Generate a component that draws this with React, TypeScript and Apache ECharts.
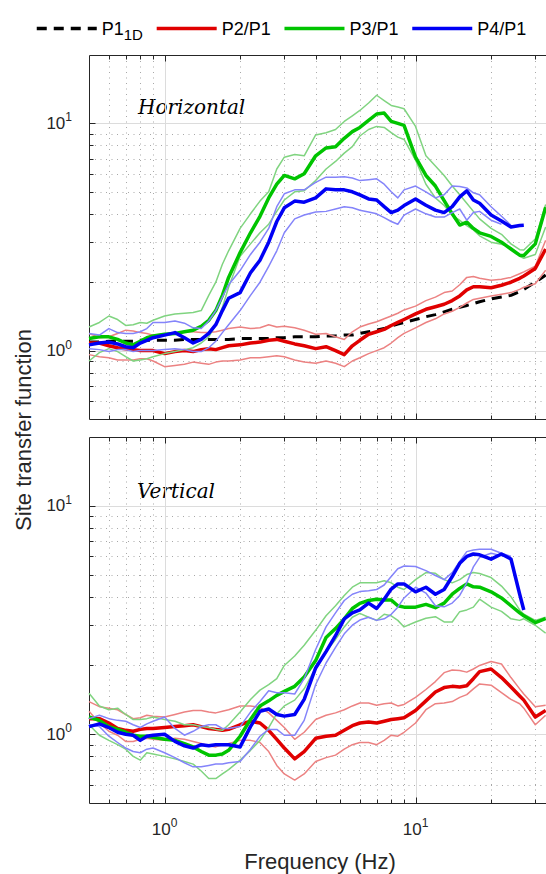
import React, { useEffect, useRef } from 'react';
import * as echarts from 'echarts';

// Frequency samples (Hz)
const FREQ = [
  0.5, 0.55, 0.6, 0.65, 0.7, 0.75, 0.8, 0.85, 0.9,
  1.0, 1.1, 1.2, 1.3, 1.4, 1.5, 1.6, 1.7, 1.8,
  2.0, 2.2, 2.4, 2.6, 2.8,
  3.0, 3.3, 3.6,
  4.0, 4.4, 4.8, 5.2, 5.6, 6.0, 6.5, 7.0, 7.5, 8.0, 8.5, 9.0,
  10, 11, 12, 13, 14, 15, 16, 17, 18,
  20, 22, 24, 26, 27, 30, 33,
];

// ---- Horizontal panel ----
const H_P1_1D = [
  1.09, 1.09, 1.10, 1.10, 1.10, 1.10, 1.11, 1.11, 1.11,
  1.11, 1.11, 1.12, 1.12, 1.12, 1.12, 1.12, 1.12, 1.12,
  1.13, 1.13, 1.13, 1.13, 1.14,
  1.14, 1.15, 1.15,
  1.15, 1.16, 1.16, 1.17, 1.17, 1.19, 1.21, 1.23, 1.25, 1.28, 1.31, 1.33,
  1.37, 1.41, 1.44, 1.48, 1.52, 1.55, 1.58, 1.61, 1.64,
  1.69, 1.72, 1.75, 1.82, 1.86, 2.00, 2.15,
];
const H_P2 = [
  1.08, 1.08, 1.05, 1.03, 1.02, 1.01, 1.00, 1.00, 1.00,
  0.97, 0.99, 1.00, 0.99, 1.01, 1.02, 1.01, 1.03, 1.05,
  1.06, 1.08, 1.09, 1.11, 1.12,
  1.10, 1.07, 1.05,
  1.02, 1.04, 1.00, 0.96, 1.05, 1.11, 1.18, 1.21, 1.24, 1.29, 1.33, 1.37,
  1.45, 1.52, 1.56, 1.60, 1.66, 1.74, 1.85, 1.91, 1.91,
  1.89, 1.94, 2.00, 2.08, 2.13, 2.30, 2.80,
];
const H_P2_UP = [
  1.19, 1.14, 1.15, 1.19, 1.23, 1.22, 1.20, 1.19, 1.17,
  1.18, 1.19, 1.21, 1.21, 1.20, 1.20, 1.21, 1.23, 1.25,
  1.27, 1.25, 1.26, 1.30, 1.27,
  1.28, 1.26, 1.23,
  1.18, 1.19, 1.15, 1.12, 1.21, 1.27, 1.31, 1.34, 1.38, 1.42, 1.46, 1.51,
  1.57, 1.66, 1.72, 1.80, 1.83, 1.95, 2.10, 2.12, 2.08,
  2.04, 2.06, 2.10, 2.18, 2.22, 2.35, 3.06,
];
const H_P2_LO = [
  0.96, 0.94, 0.93, 0.91, 0.91, 0.91, 0.92, 0.92, 0.90,
  0.85, 0.86, 0.87, 0.89, 0.88, 0.87, 0.89, 0.90, 0.90,
  0.91, 0.93, 0.93, 0.94, 0.95,
  0.94, 0.91, 0.89,
  0.88, 0.90, 0.88, 0.85, 0.90, 0.93, 0.97, 1.00, 1.03, 1.08, 1.14, 1.19,
  1.26, 1.33, 1.38, 1.45, 1.49, 1.55, 1.62, 1.68, 1.70,
  1.74, 1.77, 1.80, 1.86, 1.90, 1.97, 2.26,
];
const H_P3 = [
  1.13, 1.15, 1.15, 1.12, 1.08, 1.06, 1.10, 1.14, 1.16,
  1.18, 1.19, 1.21, 1.23, 1.28, 1.36, 1.50, 1.75, 2.10,
  2.70, 3.30, 3.90, 4.70, 5.40,
  5.90, 5.70, 6.00,
  7.20, 7.80, 7.90, 8.60, 9.20, 9.60, 10.3, 11.0, 11.1, 10.2, 10.0, 9.80,
  7.10, 5.90, 5.30, 4.57, 4.00, 3.57, 3.68, 3.45, 3.30,
  3.18, 3.00, 2.80, 2.63, 2.62, 2.95, 4.28,
];
const H_P3_UP = [
  1.27, 1.33, 1.42, 1.37, 1.29, 1.30, 1.33, 1.32, 1.36,
  1.42, 1.45, 1.46, 1.47, 1.50, 1.75, 2.00, 2.40, 2.75,
  3.45, 4.00, 4.55, 5.00, 6.30,
  7.10, 7.30, 7.20,
  8.90, 9.10, 9.40, 10.2, 10.8, 11.4, 12.3, 13.3, 12.6, 12.0, 11.8, 11.6,
  9.70, 7.20, 6.50, 5.90, 5.30, 4.85, 4.45, 4.10, 3.80,
  3.45, 3.25, 2.95, 2.78, 2.77, 3.10, 4.40,
];
const H_P3_LO = [
  0.90, 0.98, 1.02, 0.99, 0.94, 0.90, 0.91, 0.92, 0.94,
  0.97, 0.99, 1.01, 1.03, 1.08, 1.15, 1.30, 1.55, 1.90,
  2.60, 2.95, 3.30, 3.60, 4.10,
  4.60, 5.00, 5.05,
  5.60, 6.30, 6.80, 7.40, 7.90, 8.80, 9.40, 9.70, 9.60, 9.10, 8.70, 8.50,
  6.90, 5.40, 4.70, 4.35, 3.95, 3.74, 3.55, 3.40, 3.20,
  3.00, 2.94, 2.84, 2.60, 2.55, 2.65, 3.50,
];
const H_P4 = [
  1.06, 1.08, 1.09, 1.07, 1.04, 1.03, 1.08, 1.11, 1.14,
  1.17, 1.20, 1.14, 1.08, 1.12, 1.19, 1.30, 1.50, 1.70,
  1.80, 2.20, 2.50, 3.00, 3.70,
  4.25, 4.55, 4.50,
  4.70, 5.15, 5.10, 5.10, 5.00, 4.85, 4.65, 4.60, 4.30, 4.05, 4.15, 4.35,
  4.65, 4.36, 4.15, 4.05, 4.30, 4.75, 5.05, 4.60, 4.45,
  3.95, 3.72, 3.50, 3.55, 3.56,
];
const H_P4_UP = [
  1.19, 1.17, 1.25, 1.20, 1.19, 1.19, 1.21, 1.25, 1.33,
  1.33, 1.35, 1.32, 1.26, 1.25, 1.35, 1.50, 1.72, 1.95,
  2.25, 2.65, 3.00, 3.45, 4.30,
  4.90, 5.10, 5.10,
  5.50, 5.80, 5.80, 5.82, 5.75, 5.60, 5.65, 5.70, 5.40, 5.00, 4.70, 5.10,
  5.30, 5.00, 4.70, 4.85, 5.30, 5.28, 5.20, 4.95, 4.85,
  4.30, 3.90, 3.56,
];
const H_P4_LO = [
  1.02, 1.01, 0.99, 1.01, 1.01, 0.99, 1.00, 1.00, 1.00,
  1.01, 1.02, 1.01, 0.99, 0.99, 1.03, 1.10, 1.20, 1.30,
  1.50, 1.75, 2.00, 2.35, 2.75,
  3.30, 3.80, 3.95,
  4.07, 4.10, 4.20, 4.30, 4.25, 4.15, 4.07, 4.00, 3.85, 3.70, 3.60, 3.95,
  4.20, 4.00, 3.87, 3.87, 4.05, 4.20, 3.75, 4.05, 4.10,
  3.75, 3.60,
];

// ---- Vertical panel ----
const V_P2 = [
  1.17, 1.17, 1.12, 1.06, 1.04, 1.03, 1.05, 1.06, 1.06,
  1.07, 1.08, 1.09, 1.10, 1.08, 1.06, 1.05, 1.04, 1.05,
  1.10, 1.14, 1.12, 1.04, 0.95,
  0.87, 0.78, 0.84,
  0.96, 0.98, 0.99, 1.04, 1.09, 1.12, 1.13, 1.12, 1.14, 1.16, 1.17, 1.18,
  1.27, 1.40, 1.53, 1.60, 1.62, 1.61, 1.63, 1.75, 1.88,
  1.93, 1.77, 1.61, 1.47, 1.41, 1.19, 1.27,
];
const V_P2_UP = [
  1.39, 1.32, 1.30, 1.28, 1.22, 1.17, 1.18, 1.21, 1.20,
  1.19, 1.22, 1.25, 1.27, 1.27, 1.25, 1.24, 1.26, 1.28,
  1.33, 1.33, 1.31, 1.24, 1.15,
  1.07, 0.95, 1.02,
  1.16, 1.21, 1.24, 1.28, 1.33, 1.37, 1.37, 1.34, 1.36, 1.37, 1.33, 1.35,
  1.45, 1.57, 1.70, 1.86, 1.91, 1.90, 1.87, 1.93, 2.00,
  2.08, 2.03, 1.77, 1.58, 1.50, 1.32, 1.34,
];
const V_P2_LO = [
  1.26, 1.12, 1.03, 0.99, 0.93, 0.93, 0.95, 0.96, 0.95,
  0.94, 0.96, 0.95, 0.93, 0.91, 0.89, 0.88, 0.90, 0.91,
  0.94, 0.94, 0.92, 0.84, 0.73,
  0.67, 0.63, 0.67,
  0.76, 0.79, 0.81, 0.86, 0.90, 0.92, 0.92, 0.90, 0.94, 0.99, 0.98, 1.02,
  1.12, 1.28, 1.36, 1.37, 1.39, 1.45, 1.49, 1.58, 1.66,
  1.64, 1.52, 1.42, 1.36, 1.30, 1.10, 1.21,
];
const V_P3 = [
  1.19, 1.15, 1.08, 1.05, 1.02, 0.99, 0.98, 0.98, 0.97,
  0.95, 0.94, 0.91, 0.88, 0.84, 0.81, 0.81, 0.82, 0.85,
  0.98, 1.16, 1.33, 1.40, 1.48,
  1.54, 1.62, 1.78,
  2.10, 2.65, 2.90, 3.20, 3.55, 3.74, 3.85, 3.90, 3.87, 3.87, 3.65, 3.60,
  3.60, 3.70, 3.58, 3.75, 4.10, 4.35, 4.55, 4.42, 4.40,
  4.20, 3.95, 3.65, 3.40, 3.30, 3.08, 3.21,
];
const V_P3_UP = [
  1.51, 1.33, 1.28, 1.30, 1.22, 1.16, 1.16, 1.17, 1.19,
  1.16, 1.14, 1.10, 1.10, 1.08, 1.07, 1.05, 1.04, 1.10,
  1.25, 1.42, 1.56, 1.65, 1.75,
  2.00, 2.20, 2.45,
  2.85, 3.30, 3.65, 4.05, 4.40, 4.60, 4.60, 4.60, 4.70, 4.60, 4.40, 4.30,
  4.75, 5.10, 5.06, 4.75, 4.60, 4.75, 5.00, 5.10, 5.05,
  4.85, 4.45, 4.00, 3.50, 3.35, 3.15, 3.25,
];
const V_P3_LO = [
  1.10, 0.99, 0.94, 0.90, 0.86, 0.80, 0.77, 0.83, 0.82,
  0.80, 0.78, 0.76, 0.74, 0.69, 0.64, 0.64, 0.67, 0.70,
  0.77, 0.85, 0.94, 1.07, 1.23,
  1.33, 1.41, 1.58,
  1.95, 2.30, 2.60, 2.95, 3.25, 3.38, 3.25, 3.15, 3.35, 3.30, 3.15, 2.95,
  3.10, 3.22, 3.27, 3.10, 3.10, 3.44, 3.50, 3.60, 3.90,
  3.60, 3.45, 3.20, 3.15, 3.20, 3.00, 2.77,
];
const V_P4 = [
  1.08, 1.11, 1.07, 1.02, 1.00, 0.99, 0.94, 0.98, 0.99,
  1.00, 0.93, 0.89, 0.87, 0.90, 0.89, 0.90, 0.90, 0.90,
  0.88, 1.08, 1.26, 1.29, 1.22,
  1.20, 1.22, 1.42,
  1.95, 2.30, 2.70, 3.20, 3.40, 3.50, 3.75, 3.55, 3.90, 4.32, 4.55, 4.55,
  4.20, 4.40, 4.10, 4.30, 4.90, 5.60, 6.00, 6.15, 6.10,
  5.84, 6.15, 5.85, 4.10, 3.50,
];
const V_P4_UP = [
  1.17, 1.21, 1.17, 1.15, 1.14, 1.10, 1.07, 1.11, 1.14,
  1.19, 1.06, 0.99, 1.03, 1.08, 1.10, 1.10, 1.06, 1.06,
  1.08, 1.25, 1.39, 1.55, 1.52,
  1.52, 1.50, 1.75,
  2.35, 2.95, 3.40, 3.85, 4.10, 4.21, 4.25, 4.30, 4.50, 4.90, 5.30, 5.45,
  5.42, 5.20, 4.95, 4.75, 5.10, 5.70, 6.30, 6.40, 6.45,
  6.45, 6.20, 6.00,
];
const V_P4_LO = [
  1.10, 1.08, 0.98, 0.92, 0.87, 0.84, 0.83, 0.86, 0.87,
  0.83, 0.79, 0.75, 0.72, 0.72, 0.73, 0.74, 0.74, 0.75,
  0.76, 0.86, 0.98, 1.05, 1.05,
  0.99, 0.99, 1.15,
  1.65, 2.05, 2.40, 2.75, 3.00, 3.16, 3.25, 3.15, 3.20, 3.35, 3.60, 3.95,
  4.40, 4.15, 3.65, 3.61, 3.75, 4.05, 4.60, 5.40, 5.95,
  6.20, 6.05, 6.00,
];

// Axis ranges and tick values
const X_MIN = 0.5;
const X_MAX = 33.1;
const Y_MIN = 0.5;
const Y_MAX = 20;
const X_MINOR = [0.6, 0.7, 0.8, 0.9, 2, 3, 4, 5, 6, 7, 8, 9, 20, 30];
const X_MAJOR = [1, 10];
const Y_MINOR = [0.6, 0.7, 0.8, 0.9, 2, 3, 4, 5, 6, 7, 8, 9];
const Y_MAJOR = [1, 10];
const PANEL_TITLES = ['Horizontal', 'Vertical'];

const FONT = '"Liberation Sans", Arial, Helvetica, sans-serif';
const AXIS_COLOR = '#262626';
const RED = '#e00000';
const GREEN = '#00c400';
const BLUE = '#0000f5';
const RED_T = '#ec8282';
const GREEN_T = '#80d480';
const BLUE_T = '#8484fa';

function pairs(vals: number[]) {
  return vals.map((v, i) => [FREQ[i], v]);
}

function decor(gi: number) {
  return {
    type: 'custom',
    xAxisIndex: gi,
    yAxisIndex: gi,
    silent: true,
    z: 1,
    clip: false,
    data: [[1, 1]],
    renderItem: (_params: any, api: any) => {
      const c = (x: number, y: number) => api.coord([x, y]);
      const cr = (v: number) => Math.round(v) + 0.5;
      const L = cr(c(X_MIN, Y_MIN)[0]);
      const R = c(X_MAX, Y_MIN)[0] + 2;
      const B = cr(c(X_MIN, Y_MIN)[1]);
      const T = cr(c(X_MIN, Y_MAX)[1]);
      const ch: any[] = [];
      const ln = (x1: number, y1: number, x2: number, y2: number, style: any) =>
        ch.push({ type: 'line', shape: { x1, y1, x2, y2 }, style });
      const minorGrid = { stroke: '#a8a8a8', lineWidth: 1, lineDash: [1, 4.5] };
      const majorGrid = { stroke: '#dcdcdc', lineWidth: 1 };
      const tick = { stroke: AXIS_COLOR, lineWidth: 1 };
      X_MINOR.forEach((v) => {
        const x = cr(c(v, Y_MIN)[0]);
        ln(x, T, x, B, minorGrid);
      });
      Y_MINOR.forEach((v) => {
        const y = cr(c(X_MIN, v)[1]);
        ln(L, y, R, y, minorGrid);
      });
      X_MAJOR.forEach((v) => {
        const x = cr(c(v, Y_MIN)[0]);
        ln(x, T, x, B, majorGrid);
      });
      Y_MAJOR.forEach((v) => {
        const y = cr(c(X_MIN, v)[1]);
        ln(L, y, R, y, majorGrid);
      });
      X_MINOR.forEach((v) => {
        const x = cr(c(v, Y_MIN)[0]);
        ln(x, T, x, T + 4, tick);
        ln(x, B, x, B - 4, tick);
      });
      X_MAJOR.forEach((v) => {
        const x = cr(c(v, Y_MIN)[0]);
        ln(x, T, x, T + 6, tick);
        ln(x, B, x, B - 6, tick);
      });
      Y_MINOR.forEach((v) => {
        const y = cr(c(X_MIN, v)[1]);
        ln(L, y, L + 4, y, tick);
      });
      Y_MAJOR.forEach((v) => {
        const y = cr(c(X_MIN, v)[1]);
        ln(L, y, L + 6, y, tick);
      });
      const box = { stroke: AXIS_COLOR, lineWidth: 1 };
      ln(L, T, R, T, box);
      ln(L, B, R, B, box);
      ln(L, T, L, B, box);
      return { type: 'group', children: ch };
    },
  };
}

function line(name: string, vals: number[], gi: number, color: string, width: number, dash?: any) {
  return {
    type: 'line',
    name,
    xAxisIndex: gi,
    yAxisIndex: gi,
    data: pairs(vals),
    symbol: 'none',
    showSymbol: false,
    smooth: false,
    silent: true,
    z: 2,
    lineStyle: { color, width, type: dash || 'solid', cap: 'butt', join: 'round' },
    itemStyle: { color },
    emphasis: { disabled: true },
  };
}

const tickRich = {
  b: { fontSize: 17, lineHeight: 20, fontFamily: FONT, color: AXIS_COLOR },
  s: { fontSize: 12, lineHeight: 12, padding: [0, 0, 12, 0], fontFamily: FONT, color: AXIS_COLOR },
};
const tickFmt = (v: number) => {
  if (Math.abs(v - 1) < 1e-6) return '{b|10}{s|0}';
  if (Math.abs(v - 10) < 1e-6) return '{b|10}{s|1}';
  return '';
};

function xAxis(gi: number, showLabels: boolean) {
  return {
    type: 'log',
    logBase: 10,
    gridIndex: gi,
    min: X_MIN,
    max: X_MAX,
    axisLine: { show: false },
    axisTick: { show: false },
    splitLine: { show: false },
    minorTick: { show: false },
    axisLabel: {
      show: showLabels,
      formatter: tickFmt,
      rich: tickRich,
      margin: 16,
      showMinLabel: false,
      showMaxLabel: false,
    },
  };
}
function yAxis(gi: number) {
  return {
    type: 'log',
    logBase: 10,
    gridIndex: gi,
    min: Y_MIN,
    max: Y_MAX,
    axisLine: { show: false },
    axisTick: { show: false },
    splitLine: { show: false },
    axisLabel: {
      show: true,
      formatter: tickFmt,
      rich: tickRich,
      margin: 17,
      showMinLabel: false,
      showMaxLabel: false,
    },
  };
}

export default function App() {
  const ref = useRef<HTMLDivElement>(null);
  useEffect(() => {
    if (!ref.current) return;
    const chart = echarts.init(ref.current, undefined, { renderer: 'svg' });
    const option: any = {
      animation: false,
      backgroundColor: '#ffffff',
      grid: [
        { left: 89, top: 55, width: 457, height: 364 },
        { left: 89, top: 437, width: 457, height: 366 },
      ],
      xAxis: [xAxis(0, false), xAxis(1, true)],
      yAxis: [yAxis(0), yAxis(1)],
      legend: {
        data: ['P1', 'P2/P1', 'P3/P1', 'P4/P1'],
        left: 30,
        top: 10,
        itemWidth: 60,
        itemHeight: 14,
        itemGap: 12,
        selectedMode: false,
        itemStyle: { opacity: 0, borderWidth: 0 },
        lineStyle: { width: 3.5 },
        formatter: (n: string) => (n === 'P1' ? '{a|P1}{d|1D}' : n),
        textStyle: {
          fontFamily: FONT,
          fontSize: 18,
          color: '#000',
          rich: {
            a: { fontFamily: FONT, fontSize: 18, lineHeight: 20, color: '#000' },
            d: { fontFamily: FONT, fontSize: 15, lineHeight: 15, padding: [12, 0, 0, 0], color: '#000' },
          },
        },
      },
      graphic: [
        {
          type: 'text',
          x: 138,
          y: 107,
          silent: true,
          style: { text: PANEL_TITLES[0], font: 'italic 20px "DejaVu Serif"', fill: '#000', align: 'left', verticalAlign: 'middle' },
        },
        {
          type: 'text',
          x: 137,
          y: 491,
          silent: true,
          style: { text: PANEL_TITLES[1], font: 'italic 20px "DejaVu Serif"', fill: '#000', align: 'left', verticalAlign: 'middle' },
        },
        {
          type: 'text',
          x: 23,
          y: 430,
          rotation: Math.PI / 2,
          silent: true,
          style: { text: 'Site transfer function', font: '22px "Liberation Sans"', fill: AXIS_COLOR, align: 'center', verticalAlign: 'middle' },
        },
        {
          type: 'text',
          x: 320,
          y: 861,
          silent: true,
          style: { text: 'Frequency (Hz)', font: '22px "Liberation Sans"', fill: AXIS_COLOR, align: 'center', verticalAlign: 'middle' },
        },
      ],
      series: [
        decor(0),
        decor(1),
        line('P1', H_P1_1D, 0, '#000', 3, [10, 7]),
        line('P2/P1 hi H', H_P2_UP, 0, RED_T, 1.5),
        line('P2/P1 lo H', H_P2_LO, 0, RED_T, 1.5),
        line('P2/P1', H_P2, 0, RED, 3.5),
        line('P3/P1 hi H', H_P3_UP, 0, GREEN_T, 1.5),
        line('P3/P1 lo H', H_P3_LO, 0, GREEN_T, 1.5),
        line('P3/P1', H_P3, 0, GREEN, 3.5),
        line('P4/P1 hi H', H_P4_UP, 0, BLUE_T, 1.5),
        line('P4/P1 lo H', H_P4_LO, 0, BLUE_T, 1.5),
        line('P4/P1', H_P4, 0, BLUE, 3.5),
        line('P2/P1 hi V', V_P2_UP, 1, RED_T, 1.5),
        line('P2/P1 lo V', V_P2_LO, 1, RED_T, 1.5),
        line('P2/P1', V_P2, 1, RED, 3.5),
        line('P3/P1 hi V', V_P3_UP, 1, GREEN_T, 1.5),
        line('P3/P1 lo V', V_P3_LO, 1, GREEN_T, 1.5),
        line('P3/P1', V_P3, 1, GREEN, 3.5),
        line('P4/P1 hi V', V_P4_UP, 1, BLUE_T, 1.5),
        line('P4/P1 lo V', V_P4_LO, 1, BLUE_T, 1.5),
        line('P4/P1', V_P4, 1, BLUE, 3.5),
      ],
    };
    chart.setOption(option);
    return () => chart.dispose();
  }, []);
  return (
    <div
      ref={ref}
      style={{ position: 'absolute', left: 0, top: 0, width: 546, height: 874, background: '#fff' }}
    />
  );
}
